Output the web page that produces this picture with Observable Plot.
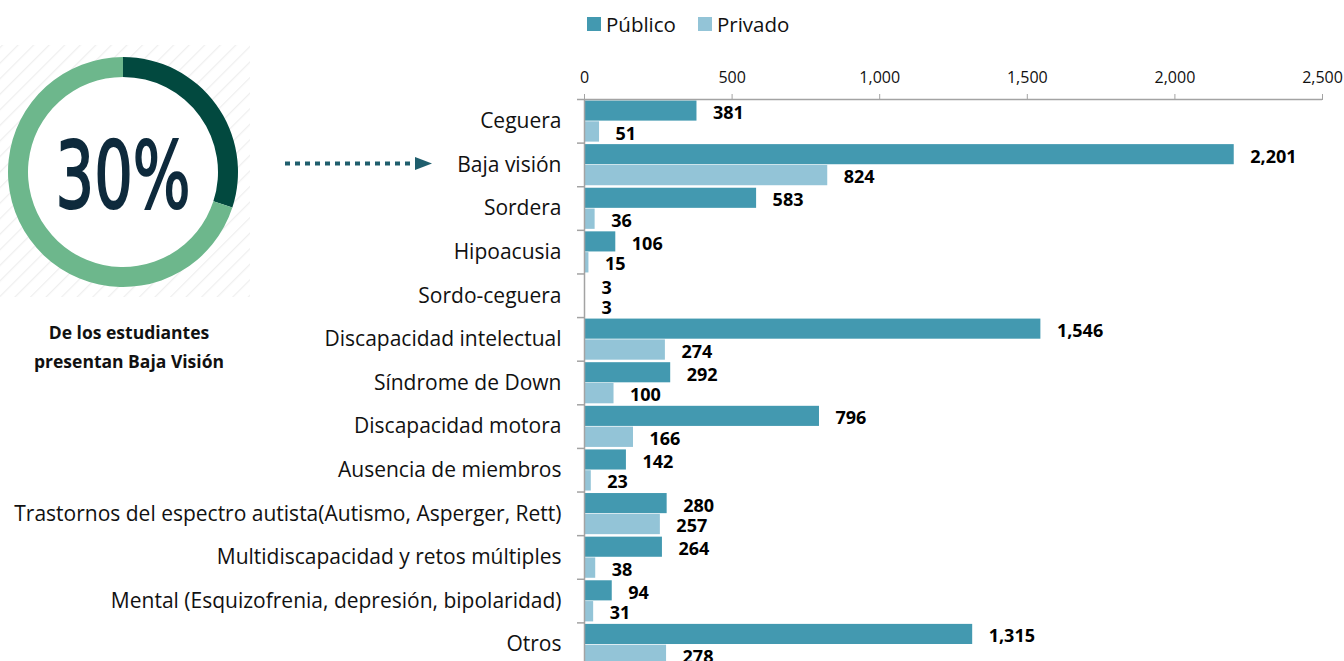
<!DOCTYPE html>
<html>
<head>
<meta charset="utf-8">
<script src="https://cdn.jsdelivr.net/npm/d3@7"></script>
<script src="https://cdn.jsdelivr.net/npm/@observablehq/plot@0.6"></script>
<style>
  html, body { margin: 0; padding: 0; overflow: hidden; background: #fff; width: 1344px; height: 661px; }
  #wrap { position: relative; width: 1344px; height: 661px; font-family: "Open Sans", sans-serif; }
  #chart { position: absolute; left: 0; top: 0; }
  #side { position: absolute; left: 0; top: 0; }
  #legend { position: absolute; left: 587px; top: 10px; display: flex; align-items: center; font-size: 20.5px; color: #111; }
  #legend .sw { width: 14px; height: 14px; display: inline-block; margin-right: 5px; }
  #legend .item { display: flex; align-items: center; margin-right: 22px; }
</style>
</head>
<body>
<div id="wrap">
  <div id="chart"></div>
  <svg id="side" width="460" height="400"></svg>
  <div id="legend"></div>
</div>
<script>
const categories = [
  "Ceguera", "Baja visión", "Sordera", "Hipoacusia", "Sordo-ceguera",
  "Discapacidad intelectual", "Síndrome de Down", "Discapacidad motora",
  "Ausencia de miembros", "Trastornos del espectro autista(Autismo, Asperger, Rett)",
  "Multidiscapacidad y retos múltiples", "Mental (Esquizofrenia, depresión, bipolaridad)", "Otros"
];
const publico = [381, 2201, 583, 106, 3, 1546, 292, 796, 142, 280, 264, 94, 1315];
const privado = [51, 824, 36, 15, 3, 274, 100, 166, 23, 257, 38, 31, 278];
const seriesNames = ["Público", "Privado"];
const seriesColors = ["#4399b0", "#93c4d7"];
const xTicks = [0, 500, 1000, 1500, 2000, 2500];
const donutValue = [30];
const donutText = "30%";
const captionLines = ["De los estudiantes", "presentan Baja Visión"];

const pub = categories.map((c, i) => ({category: c, series: seriesNames[0], value: publico[i]}));
const pri = categories.map((c, i) => ({category: c, series: seriesNames[1], value: privado[i]}));
const fmt = d3.format(",");
const gray = "#a3a3a3";

const H = 667, MT = 99, MB = 1;
const half = (H - MT - MB) / categories.length / 2;

const chart = Plot.plot({
  width: 1344,
  height: H,
  marginTop: MT,
  marginBottom: MB,
  marginLeft: 584,
  marginRight: 22,
  style: {fontFamily: "'Open Sans', sans-serif", fontSize: "15px", color: "#111", background: "transparent", overflow: "visible"},
  x: {domain: [0, 2500], round: false},
  y: {domain: categories, padding: 0, round: false},
  marks: [
    Plot.barX(pub, {x: "value", y: "category", fill: seriesColors[0], insetTop: 1.5, insetBottom: 22}),
    Plot.barX(pri, {x: "value", y: "category", fill: seriesColors[1], insetTop: 22.3, insetBottom: 1}),
    Plot.text(pub, {x: "value", y: "category", text: d => fmt(d.value), dx: 16, dy: -8, textAnchor: "start", fontWeight: "bold", fontSize: 18, fill: "#000"}),
    Plot.text(pri, {x: "value", y: "category", text: d => fmt(d.value), dx: 16, dy: 12.5, textAnchor: "start", fontWeight: "bold", fontSize: 18, fill: "#000"}),
    Plot.ruleX([0], {stroke: gray, strokeWidth: 1.5}),
    Plot.ruleY(categories, {y: d => d, dy: -half, x1: 0, x2: 0, insetLeft: -7, stroke: gray, strokeWidth: 1.5}),
    Plot.ruleY([categories[0]], {y: d => d, dy: -half, x1: 0, x2: 2500, stroke: gray, strokeWidth: 1.5}),
    Plot.axisX({anchor: "top", ticks: xTicks, tickFormat: fmt, tickSize: 6, tickPadding: 11, stroke: gray, fill: "#111", fontSize: 16, label: null}),
    Plot.axisY({anchor: "left", tickSize: 0, tickPadding: 23, fontSize: 21, fill: "#111", label: null})
  ]
});
document.getElementById("chart").appendChild(chart);

// Legend
const legend = document.getElementById("legend");
seriesNames.forEach((s, i) => {
  const it = document.createElement("span");
  it.className = "item";
  it.innerHTML = `<span class="sw" style="background:${seriesColors[i]}"></span><span>${s}</span>`;
  legend.appendChild(it);
});

// Side panel: donut, caption, arrow
const side = d3.select("#side");
const defs = side.append("defs");
const pat = defs.append("pattern").attr("id", "stripes").attr("patternUnits", "userSpaceOnUse")
  .attr("width", 11).attr("height", 11).attr("patternTransform", "rotate(45)");
pat.append("line").attr("x1", 0).attr("y1", 0).attr("x2", 0).attr("y2", 11).attr("stroke", "#efefef").attr("stroke-width", 2.5);
side.append("rect").attr("x", 0).attr("y", 45).attr("width", 250).attr("height", 252).attr("fill", "url(#stripes)");

const cx = 123, cy = 172;
const g = side.append("g").attr("transform", `translate(${cx},${cy})`);
const frac = donutValue[0] / 100;
const arc = d3.arc().innerRadius(95).outerRadius(115);
g.append("circle").attr("r", 95).attr("fill", "#fff");
g.append("path").attr("d", arc({startAngle: 0, endAngle: 2 * Math.PI * frac})).attr("fill", "#02493f");
g.append("path").attr("d", arc({startAngle: 2 * Math.PI * frac, endAngle: 2 * Math.PI})).attr("fill", "#6db78c");
g.append("text").attr("x", 0).attr("y", 36).attr("text-anchor", "middle")
  .attr("font-family", "'DejaVu Sans Condensed', 'DejaVu Sans', sans-serif").attr("font-size", 93)
  .attr("fill", "#0e2a3c").attr("stroke", "#0e2a3c").attr("stroke-width", 2)
  .attr("textLength", 135).attr("lengthAdjust", "spacingAndGlyphs").text(donutText);

captionLines.forEach((t, i) => {
  side.append("text").attr("x", 129).attr("y", 339 + i * 29).attr("text-anchor", "middle")
    .attr("font-family", "'Open Sans', sans-serif").attr("font-weight", "bold").attr("font-size", 17.5)
    .attr("fill", "#111").text(t);
});

const arrowColor = "#1f5e6d";
side.append("line").attr("x1", 285).attr("x2", 412).attr("y1", 163.5).attr("y2", 163.5)
  .attr("stroke", arrowColor).attr("stroke-width", 4).attr("stroke-dasharray", "5 5");
side.append("path").attr("d", "M415,157 L432,163.5 L415,170 Z").attr("fill", arrowColor);
</script>
</body>
</html>
